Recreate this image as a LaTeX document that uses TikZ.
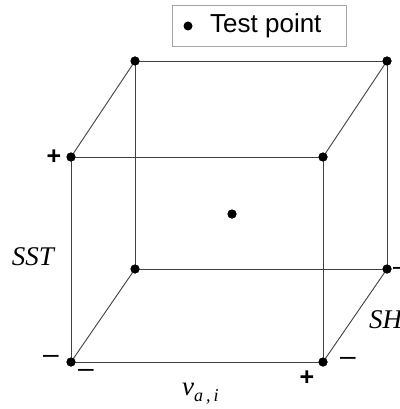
\documentclass[tikz,border=0pt]{standalone}
\usepackage{fontspec}
\setmainfont{Liberation Serif}
\newfontfamily\legendfont{Liberation Sans}
\begin{document}
\begin{tikzpicture}[x=1pt,y=-1pt,
  edge/.style={draw=black!75, line width=0.9pt},
  pt/.style={circle, fill=black, inner sep=0pt, minimum size=9pt},
  plussign/.style={font=\legendfont\bfseries\fontsize{25}{27}\selectfont, inner sep=0pt},
  minussign/.style={font=\legendfont\fontsize{28}{30}\selectfont, inner sep=0pt},
  lab/.style={font=\itshape\fontsize{27}{30}\selectfont, inner sep=0pt}]
\useasboundingbox (0,0) rectangle (399,409);
% front face
\node[pt] (ftl) at (71,157) {};
\node[pt] (ftr) at (323,157) {};
\node[pt] (fbl) at (71,362) {};
\node[pt] (fbr) at (323,362) {};
% back face
\node[pt] (btl) at (135,61) {};
\node[pt] (btr) at (387,61) {};
\node[pt] (bbl) at (135,269) {};
\node[pt] (bbr) at (387,269) {};
% center
\node[pt] (ctr) at (232,214) {};
\draw[edge] (ftl.center) -- (ftr.center) -- (fbr.center) -- (fbl.center) -- cycle;
\draw[edge] (btl.center) -- (btr.center) -- (bbr.center) -- (bbl.center) -- cycle;
\draw[edge] (ftl.center) -- (btl.center);
\draw[edge] (ftr.center) -- (btr.center);
\draw[edge] (fbl.center) -- (bbl.center);
\draw[edge] (fbr.center) -- (bbr.center);
% redraw dots on top
\foreach \n in {ftl,ftr,fbl,fbr,btl,btr,bbl,bbr,ctr} \fill (\n) circle (4.5pt);
% signs
\node[plussign] (p1) at (54,157) {+};
\node[minussign] (m1) at (51,359) {\textendash};
\node[minussign] (m2) at (86,373) {\textendash};
\node[plussign] (p2) at (307,378) {+};
\node[minussign] (m3) at (348,361) {\textendash};
\node[minussign, anchor=west] (m4) at (393,271) {\textendash};
% labels
\node[lab] (sst) at (33,257) {SST};
\node[lab, anchor=west] (sh) at (369,320) {SH};
\node[inner sep=0pt, anchor=base west] (va) at (182,395) {\itshape\fontsize{27}{30}\selectfont v\raisebox{-6pt}{\fontsize{18}{20}\selectfont a\,,\,i}};
% legend
\node[draw=black!35, line width=0.8pt, minimum width=174pt, minimum height=41pt, inner sep=0pt] (leg) at (259,25.5) {};
\fill (188,26) circle (4.5pt);
\node[font=\legendfont\fontsize{26}{28}\selectfont, anchor=west, inner sep=0pt] (legtxt) at (210,26) {Test point};
\end{tikzpicture}
\end{document}
